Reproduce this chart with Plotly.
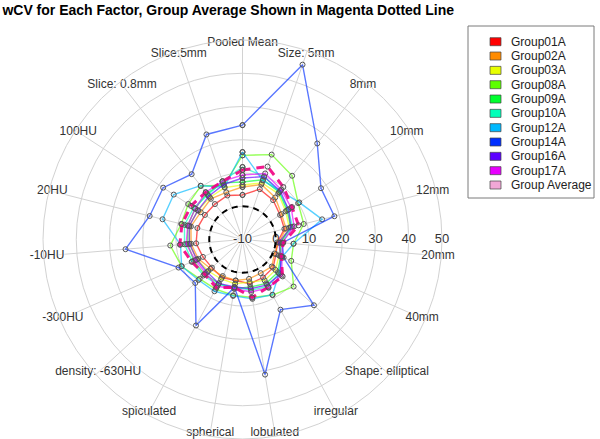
import plotly.graph_objects as go

title = "wCV for Each Factor, Group Average Shown in Magenta Dotted Line"
categories = ["Pooled Mean", "Size: 5mm", "8mm", "10mm", "12mm", "20mm", "40mm",
              "Shape: elliptical", "irregular", "lobulated", "spherical", "spiculated",
              "density: -630HU", "-300HU", "-10HU", "20HU", "100HU", "Slice: 0.8mm", "Slice:5mm"]
radial_ticks = [-10, 0, 10, 20, 30, 40, 50]
label_radius = 49

group01A = [3.4, 6.0, 5.0, 3.5, 3.0, 0.5, 1.0, 2.5, 3.0, 3.5, 2.5, 3.0, 2.5, 3.0, 4.0, 4.0, 3.5, 3.5, 4.0]
group02A = [5.8, 7.5, 6.0, 4.0, 3.5, 1.0, 0.5, 2.0, 1.5, 2.0, 2.5, 2.5, 3.0, 4.5, 5.5, 6.0, 5.0, 5.5, 5.0]
group03A = [6.4, 8.0, 7.5, 5.5, 4.5, 1.5, 2.0, 3.5, 4.0, 3.0, 3.5, 3.5, 4.0, 5.0, 6.0, 6.5, 6.0, 6.0, 6.5]
group08A = [15.3, 17.0, 14.3, 10.0, 9.0, 5.4, 6.0, 10.9, 9.0, 7.7, 7.0, 7.0, 7.5, 10.0, 11.8, 9.0, 9.5, 10.4, 7.3]
group09A = [7.3, 9.0, 8.0, 6.0, 5.0, 1.5, 2.5, 4.5, 5.0, 4.5, 5.0, 5.0, 5.5, 6.0, 6.5, 7.0, 7.0, 7.5, 8.0]
group10A = [11.8, 10.0, 8.0, 6.5, 5.5, 2.0, 3.0, 5.0, 6.0, 5.5, 4.5, 5.5, 6.0, 6.5, 7.5, 8.0, 7.5, 7.0, 8.5]
group12A = [16.3, 8.8, 8.5, 10.4, 14.7, 5.4, 3.0, 5.0, 8.9, 8.1, 7.2, 7.7, 8.0, 10.0, 8.7, 14.8, 14.7, 10.5, 6.7]
group14A = [24.4, 45.6, 26.6, 18.2, 18.5, 2.0, 3.5, 19.2, 14.0, 31.2, 4.6, 19.4, 9.3, 11.0, 25.3, 18.8, 18.5, 14.9, 23.4]
group16A = [8.5, 10.0, 8.5, 6.5, 5.0, 1.0, 2.5, 5.5, 5.5, 5.0, 4.5, 5.0, 4.5, 5.0, 6.0, 6.5, 6.0, 6.5, 7.5]
group17A = [9.4, 11.0, 9.0, 7.5, 6.0, 2.0, 3.0, 6.0, 6.5, 6.0, 5.0, 6.0, 5.0, 5.5, 7.0, 7.0, 7.0, 8.0, 8.5]
group_average = [10.9, 13.2, 10.0, 7.8, 7.4, 2.3, 2.7, 6.4, 6.3, 7.7, 4.6, 6.5, 5.5, 6.7, 8.9, 8.8, 8.5, 8.0, 8.5]

series_names = ["Group01A", "Group02A", "Group03A", "Group08A", "Group09A", "Group10A",
                "Group12A", "Group14A", "Group16A", "Group17A"]
series_values = [group01A, group02A, group03A, group08A, group09A, group10A,
                 group12A, group14A, group16A, group17A]
series_rgb = [(255, 0, 0), (255, 139, 0), (232, 255, 0), (93, 255, 0), (0, 255, 46),
              (0, 255, 185), (0, 185, 255), (0, 46, 255), (93, 0, 255), (232, 0, 255)]

FONT = "Liberation Sans, Arial, sans-serif"
GRID = "#D2D2D2"
HALO = "0px 0px 2px white, 0px 0px 2px white, 0px 0px 3px white, 0px 0px 3px white, 0px 0px 4px white"

n = len(categories)
angles = [i * 360.0 / n for i in range(n)]

fig = go.Figure()

# category labels at the outer ring
fig.add_trace(go.Scatterpolar(
    r=[label_radius] * n, theta=angles, mode="text", text=categories,
    textfont=dict(family=FONT, size=12, color="#333333", shadow=HALO),
    cliponaxis=False, showlegend=False, hoverinfo="skip"))

# radial tick labels along the east direction
fig.add_trace(go.Scatterpolar(
    r=radial_ticks, theta=[90] * len(radial_ticks), mode="text",
    text=[str(t) for t in radial_ticks],
    textfont=dict(family=FONT, size=13, color="#333333", shadow=HALO),
    cliponaxis=False, showlegend=False, hoverinfo="skip"))

for name, vals, rgb in zip(series_names, series_values, series_rgb):
    fig.add_trace(go.Scatterpolar(
        r=vals + vals[:1], theta=angles + angles[:1], mode="lines+markers", name=name,
        line=dict(color="rgba(%d,%d,%d,0.65)" % rgb, width=1.4),
        marker=dict(symbol="circle-open", size=5, color="#555555", line=dict(width=1)),
        showlegend=False))

# zero reference circle
circle_theta = list(range(0, 361, 5))
fig.add_trace(go.Scatterpolar(
    r=[0] * len(circle_theta), theta=circle_theta, mode="lines",
    line=dict(color="black", width=2, dash="6px,5px"), showlegend=False, hoverinfo="skip"))

fig.add_trace(go.Scatterpolar(
    r=group_average + group_average[:1], theta=angles + angles[:1], mode="lines+markers",
    name="Group Average",
    line=dict(color="rgba(240,0,130,0.9)", width=3, dash="8px,6px"),
    marker=dict(symbol="circle-open", size=5, color="#555555", line=dict(width=1)),
    showlegend=False))

# custom legend
W, H = 600.0, 439.0
legend_names = series_names + ["Group Average"]
legend_fill = ["rgb(%d,%d,%d)" % c for c in series_rgb] + ["#F2A7D6"]
shapes = [dict(type="rect", xref="paper", yref="paper",
               x0=468 / W, x1=594 / W, y0=1 - 198 / H, y1=1 - 26 / H,
               line=dict(color="#7A7A7A", width=1), fillcolor="white")]
annotations = []
for i, (nm, fc) in enumerate(zip(legend_names, legend_fill)):
    yc = 41.7 + i * 14.33
    shapes.append(dict(type="rect", xref="paper", yref="paper",
                       x0=490 / W, x1=501 / W, y0=1 - (yc + 4) / H, y1=1 - (yc - 4) / H,
                       line=dict(color="#444444", width=0.7), fillcolor=fc))
    annotations.append(dict(x=509 / W, y=1 - yc / H, xref="paper", yref="paper",
                            text=nm, showarrow=False, xanchor="left", yanchor="middle",
                            font=dict(family=FONT, size=12, color="#222222")))

fig.update_layout(
    width=600, height=439,
    margin=dict(l=0, r=0, t=0, b=0),
    paper_bgcolor="white",
    showlegend=False,
    title=dict(text="<b>" + title + "</b>", x=0.004, xanchor="left",
               y=1 - 10 / H, yanchor="middle",
               font=dict(family=FONT, size=14, color="black")),
    polar=dict(
        domain=dict(x=[43 / W, 442 / W], y=[0, 399 / H]),
        bgcolor="white",
        radialaxis=dict(range=[-10, 50], tickvals=[0, 10, 20, 30, 40], showticklabels=False,
                        ticks="", showline=False, gridcolor=GRID, gridwidth=1),
        angularaxis=dict(type="linear", rotation=90, direction="clockwise",
                         tickvals=angles, showticklabels=False, ticks="",
                         gridcolor=GRID, gridwidth=1, showline=True,
                         linecolor=GRID, linewidth=1),
    ),
    shapes=shapes,
    annotations=annotations,
)

fig.write_html("out.html", config={"displayModeBar": False},
               post_script="document.body.style.margin='0';")
